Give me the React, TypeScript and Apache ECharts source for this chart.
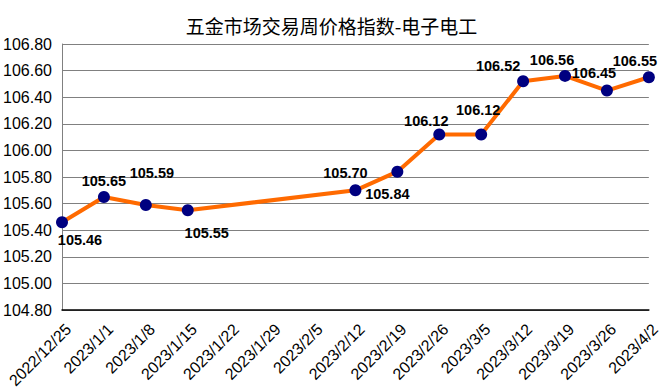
import React, { useEffect, useRef } from "react";
import * as echarts from "echarts";

const categories = [
  "2022/12/25", "2023/1/1", "2023/1/8", "2023/1/15", "2023/1/22", "2023/1/29", "2023/2/5",
  "2023/2/12", "2023/2/19", "2023/2/26", "2023/3/5", "2023/3/12", "2023/3/19", "2023/3/26", "2023/4/2",
];
const values: (number | null)[] = [
  105.46, 105.65, 105.59, 105.55, null, null, null,
  105.7, 105.84, 106.12, 106.12, 106.52, 106.56, 106.45, 106.55,
];
const labelOffsets: [number, number][] = [
  [18, 18], [0, -16], [6, -32], [19, 23], [0, 0], [0, 0], [0, 0],
  [-10, -17], [-10, 22], [-13, -13], [-3, -24], [-25, -15], [-13, -16], [-13, -18], [-14, -16],
];
const title = "五金市场交易周价格指数-电子电工";

export default function App() {
  const ref = useRef<HTMLDivElement>(null);
  useEffect(() => {
    if (!ref.current) return;
    const chart = echarts.init(ref.current, null, { renderer: "svg" });
    chart.setOption({
      animation: false,
      backgroundColor: "#fff",
      title: {
        text: title,
        left: "center",
        top: 11,
        textStyle: { fontFamily: "Noto Sans CJK SC", fontSize: 19, fontWeight: "normal", color: "#000" },
      },
      grid: { left: 62, right: 11, top: 44, bottom: 82, containLabel: false },
      xAxis: {
        type: "category",
        data: categories,
        boundaryGap: false,
        axisLine: { lineStyle: { color: "#000", width: 1.5 } },
        axisTick: { show: false },
        axisLabel: {
          rotate: 45,
          interval: 0,
          margin: 23,
          padding: [0, -9, 0, 0],
          fontFamily: "Liberation Sans, Arial",
          fontSize: 16,
          color: "#000",
        },
        splitLine: { show: false },
      },
      yAxis: {
        type: "value",
        min: 104.8,
        max: 106.8,
        interval: 0.2,
        axisLine: { show: true, lineStyle: { color: "#808080" } },
        axisTick: { show: false },
        axisLabel: {
          margin: 10,
          fontFamily: "Liberation Sans, Arial",
          fontSize: 16,
          color: "#000",
          formatter: (v: number) => v.toFixed(2),
        },
        splitLine: { show: true, lineStyle: { color: "#808080", width: 1 } },
      },
      series: [
        {
          type: "line",
          connectNulls: true,
          data: values.map((v, i) =>
            v === null ? null : { value: v, label: { offset: labelOffsets[i] } }
          ),
          symbol: "circle",
          symbolSize: 12,
          itemStyle: { color: "#000080" },
          lineStyle: { color: "#FF6A00", width: 4 },
          label: {
            show: true,
            position: "inside",
            fontFamily: "Liberation Sans, Arial",
            fontSize: 14.5,
            fontWeight: "bold",
            color: "#000",
            formatter: (p: any) => Number(p.value).toFixed(2),
          },
        },
      ],
    });
    return () => chart.dispose();
  }, []);
  return <div ref={ref} style={{ width: 663, height: 392, position: "absolute", left: 0, top: 0 }} />;
}
